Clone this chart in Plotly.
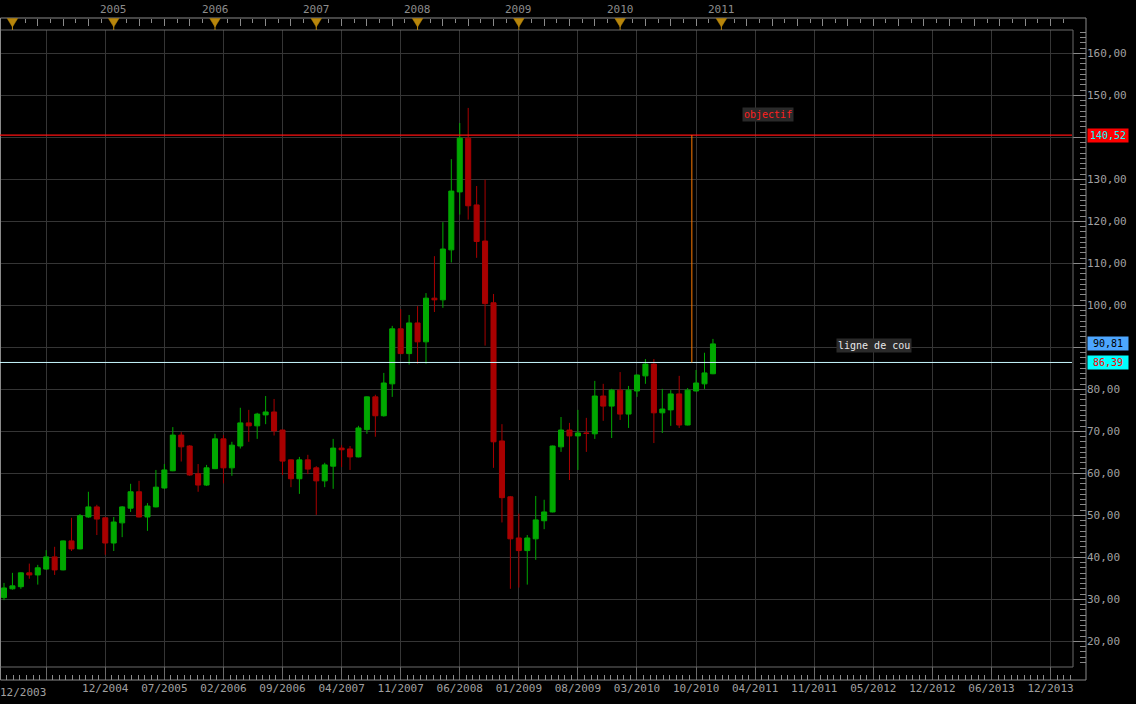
import pandas as pd
import plotly.graph_objects as go

# ---------------- data (monthly candles, Dec 2003 .. Dec 2010) ----------------
months = [p.strftime("%m/%Y") for p in pd.period_range("2003-12", "2010-12", freq="M")]

opens = [30.4, 32.5, 33.0, 36.3, 35.8, 37.2, 40.1, 37.0, 43.9, 42.0, 49.6, 52.0,
         49.4, 43.4, 48.2, 51.7, 55.6, 49.6, 52.0, 56.5, 60.6, 69.1, 66.5, 59.9,
         57.2, 61.1, 68.2, 61.3, 66.5, 72.0, 71.3, 73.9, 74.6, 70.3, 63.2, 58.7,
         63.2, 61.3, 58.2, 61.7, 66.0, 65.8, 63.9, 70.4, 78.2, 73.7, 81.3, 94.4,
         88.5, 95.8, 91.3, 101.7, 101.3, 113.2, 127.0, 139.8, 123.9, 115.3, 100.6, 67.7,
         54.4, 44.6, 41.6, 44.4, 48.7, 50.8, 66.3, 70.3, 68.9, 69.6, 69.4, 78.4,
         76.0, 79.8, 74.1, 79.6, 83.2, 86.0, 74.4, 75.1, 78.9, 71.5, 79.6, 81.3,
         83.7]
highs = [33.9, 36.3, 36.4, 38.5, 38.2, 41.7, 42.5, 44.0, 49.4, 50.3, 55.6, 52.5,
         49.5, 49.6, 52.2, 57.5, 58.2, 52.9, 60.8, 62.2, 71.0, 69.8, 66.7, 62.2,
         62.0, 69.4, 69.1, 67.5, 75.6, 75.1, 74.4, 78.4, 77.7, 70.4, 63.3, 63.9,
         64.4, 61.7, 62.5, 68.2, 66.7, 66.5, 71.3, 78.3, 78.7, 83.9, 95.1, 99.1,
         97.7, 99.8, 102.9, 111.7, 119.8, 134.8, 143.4, 147.0, 128.4, 129.9, 102.7, 71.7,
         54.6, 50.4, 45.3, 54.6, 53.7, 66.6, 73.4, 72.0, 75.1, 73.2, 82.0, 81.3,
         80.1, 84.1, 80.8, 83.5, 87.2, 87.2, 80.1, 79.8, 83.2, 80.3, 84.6, 88.7,
         92.0]
lows = [29.8, 32.3, 32.5, 34.9, 33.5, 37.0, 35.8, 36.9, 41.5, 41.9, 49.4, 45.3,
        40.6, 41.5, 44.8, 50.8, 49.5, 46.3, 51.9, 56.3, 60.5, 62.8, 59.4, 55.6,
        57.0, 61.0, 57.6, 59.4, 65.9, 67.5, 68.2, 71.7, 69.0, 59.6, 56.7, 55.1,
        59.8, 50.1, 56.7, 56.3, 61.5, 60.8, 63.8, 69.4, 68.7, 73.5, 78.2, 88.4,
        85.9, 86.1, 86.1, 98.4, 99.4, 110.2, 121.6, 120.4, 111.3, 90.4, 61.3, 48.3,
        32.5, 32.8, 33.5, 39.4, 46.7, 50.7, 65.1, 58.4, 60.8, 65.1, 68.2, 72.5,
        68.4, 72.7, 70.8, 78.2, 81.3, 67.2, 69.6, 71.3, 70.8, 71.4, 79.5, 80.1,
        83.6]
closes = [32.7, 33.2, 36.3, 35.8, 37.5, 40.1, 37.0, 43.9, 42.0, 49.9, 52.0, 49.1,
          43.4, 48.4, 52.0, 55.6, 49.6, 52.2, 56.7, 60.8, 69.1, 66.3, 59.6, 57.2,
          61.3, 68.2, 61.3, 66.7, 72.0, 71.3, 74.1, 74.6, 70.1, 62.9, 58.7, 63.2,
          61.0, 58.2, 62.0, 66.0, 65.6, 63.9, 70.8, 78.2, 73.7, 81.5, 94.4, 88.5,
          95.8, 91.3, 101.7, 101.3, 113.4, 127.2, 139.8, 123.7, 115.2, 100.4, 67.5, 54.2,
          44.4, 41.6, 44.6, 48.9, 50.8, 66.5, 70.3, 68.9, 69.6, 69.5, 78.4, 76.0,
          79.8, 74.1, 79.8, 83.4, 86.0, 74.4, 75.3, 78.9, 71.5, 79.8, 81.5, 83.9,
          90.81]

objective = 140.52          # "objectif"
neckline = 86.39            # "ligne de cou"
last_close = 90.81
target_month_pos = 81.5     # position of the vertical projection (between 09/2010 and 10/2010)

# bottom axis: grid every 7 months (positions in month units from 12/2003)
bottom_tick_pos = [5, 12, 19, 26, 33, 40, 47, 54, 61, 68, 75, 82, 89, 96, 103, 110, 117, 124]
bottom_tick_text = ["", "12/2004", "07/2005", "02/2006", "09/2006", "04/2007", "11/2007",
                    "06/2008", "01/2009", "08/2009", "03/2010", "10/2010", "04/2011",
                    "11/2011", "05/2012", "12/2012", "06/2013", "12/2013"]
first_label = "12/2003"

# top axis: year markers (January of each year)
year_pos = [1, 13, 25, 37, 49, 61, 73, 85]
year_text = ["", "2005", "2006", "2007", "2008", "2009", "2010", "2011"]

y_ticks = list(range(20, 170, 10))

# ---------------- geometry helpers ----------------
W, H = 1136, 704
def fx(p):  # pixel x -> paper
    return p / W
def fy(p):  # pixel y -> paper
    return (H - p) / H

def fmt(v):
    return f"{v:.2f}".replace(".", ",")

x_index = list(range(len(months)))
x_range = [-0.474, 126.66]
y_range = [13.88, 165.55]

tags = [objective, last_close, neckline]
# the price tags cover the axis labels they sit on
y_tick_text = ["" if any(abs(t - v) < 2.2 for v in tags) else fmt(t) for t in y_ticks]

GRID = "#353535"
AX = "#8a8a8a"
TXT = "#a0a0a0"
FONT = "DejaVu Sans Mono"
GREEN = "#00a800"
RED = "#a80000"

fig = go.Figure()
fig.add_trace(go.Candlestick(
    x=x_index, open=opens, high=highs, low=lows, close=closes,
    increasing=dict(line=dict(color=GREEN, width=1), fillcolor=GREEN),
    decreasing=dict(line=dict(color=RED, width=1), fillcolor=RED),
    whiskerwidth=0, hoverinfo="skip", showlegend=False, name="",
    text=months,
))
# invisible trace so the top axis is drawn
fig.add_trace(go.Scatter(x=year_pos, y=[None] * len(year_pos), xaxis="x2", yaxis="y",
                         mode="markers", marker=dict(opacity=0), showlegend=False,
                         hoverinfo="skip"))

shapes = []
def pline(x0, y0, x1, y1, color=AX, width=1):
    shapes.append(dict(type="line", xref="paper", yref="paper",
                       x0=fx(x0), y0=fy(y0), x1=fx(x1), y1=fy(y1),
                       line=dict(color=color, width=width), layer="above"))
pline(0.5, 18, 1086, 18)
pline(0.5, 30, 1073, 30, color="#6a6a6a")
pline(0.5, 18, 0.5, 680)
pline(1073, 30, 1073, 667, color="#6a6a6a")
pline(1086, 18, 1086, 680)
pline(0.5, 667, 1073, 667, color="#6a6a6a")
pline(0.5, 680, 1086, 680)

# objective line (red), neckline (cyan), projection (orange)
shapes.append(dict(type="line", xref="paper", yref="y", x0=0, x1=fx(1072),
                   y0=objective, y1=objective, line=dict(color="#ff1010", width=1.2)))
shapes.append(dict(type="line", xref="paper", yref="y", x0=0, x1=fx(1072),
                   y0=neckline, y1=neckline, line=dict(color="#c8f8ff", width=1)))
shapes.append(dict(type="line", xref="x", yref="y", x0=target_month_pos, x1=target_month_pos,
                   y0=neckline, y1=objective, line=dict(color="#ff7a00", width=1)))

# year triangles on the top axis
for p in year_pos:
    shapes.append(dict(type="path", xref="x", yref="paper",
                       path=f"M {p-0.62},{fy(18.5)} L {p+0.62},{fy(18.5)} L {p},{fy(27)} Z",
                       fillcolor="#b8860b", line=dict(color="#b8860b", width=0.5)))
    shapes.append(dict(type="line", xref="x", yref="paper", x0=p, x1=p,
                       y0=fy(26), y1=fy(30), line=dict(color="#b8860b", width=1)))

annotations = []
for p, t in zip(year_pos, year_text):
    if t:
        annotations.append(dict(x=p, xref="x", y=fy(9), yref="paper", text=t,
                                showarrow=False, font=dict(family=FONT, size=11, color="#8c8c8c"),
                                xanchor="center", yanchor="middle"))
annotations.append(dict(x=0, xref="paper", y=fy(692), yref="paper", text=first_label,
                        showarrow=False, font=dict(family=FONT, size=11, color=TXT),
                        xanchor="left", yanchor="middle", xshift=-2))

def price_tag(v, bg, fg):
    annotations.append(dict(x=fx(1087), xref="paper", y=v, yref="y", text=fmt(v),
                            showarrow=False, font=dict(family=FONT, size=10, color=fg),
                            bgcolor=bg, xanchor="left", yanchor="middle",
                            width=40, height=13, borderpad=0, align="center"))
price_tag(objective, "#ff0000", "#00ffff")
price_tag(last_close, "#4da6ff", "#000000")
price_tag(neckline, "#00ffff", "#ff0000")

annotations.append(dict(x=90.5, xref="x", y=objective + 4.9, yref="y", text="objectif",
                        showarrow=False, font=dict(family=FONT, size=10, color="#ff2020"),
                        bgcolor="#2a2a2a", borderpad=1, xanchor="center", yanchor="middle"))
annotations.append(dict(x=103.1, xref="x", y=neckline + 4.0, yref="y", text="ligne de cou",
                        showarrow=False, font=dict(family=FONT, size=10, color="#e8e8e8"),
                        bgcolor="#2a2a2a", borderpad=1, xanchor="center", yanchor="middle"))

fig.update_layout(
    width=W, height=H,
    margin=dict(l=0, r=0, t=0, b=0),
    paper_bgcolor="#000000", plot_bgcolor="#000000",
    separators=", ",
    showlegend=False,
    boxgap=0.15,
    font=dict(family=FONT, size=11, color=TXT),
    xaxis=dict(domain=[0, fx(1073)], range=x_range, anchor="free", position=fy(680),
               tickmode="array", tickvals=bottom_tick_pos, ticktext=bottom_tick_text,
               showgrid=True, gridcolor=GRID, gridwidth=1, zeroline=False,
               ticks="inside", ticklen=13, tickcolor="#6a6a6a", showline=False,
               tickfont=dict(family=FONT, size=11, color=TXT),
               minor=dict(tick0=5, dtick=7 / 9, ticks="inside", ticklen=5, tickcolor="#8a8a8a",
                          showgrid=False),
               rangeslider=dict(visible=False), automargin=False, fixedrange=True),
    xaxis2=dict(overlaying="x", side="top", anchor="free", position=fy(18), range=x_range,
                domain=[0, fx(1073)],
                tickmode="linear", tick0=1, dtick=3, ticks="inside", ticklen=7,
                tickcolor="#8a8a8a", showticklabels=False, showgrid=False, zeroline=False,
                minor=dict(dtick=1.5, tick0=1, ticks="inside", ticklen=4, tickcolor="#8a8a8a",
                           showgrid=False),
                automargin=False, fixedrange=True),
    yaxis=dict(domain=[fy(667), fy(30)], range=y_range, side="right", anchor="free",
               position=fx(1086), tickmode="array", tickvals=y_ticks, ticktext=y_tick_text,
               showgrid=True, gridcolor=GRID, gridwidth=1, zeroline=False,
               ticks="inside", ticklen=13, tickcolor="#8a8a8a", showline=False,
               tickfont=dict(family=FONT, size=11, color=TXT),
               minor=dict(tick0=20, dtick=1.25, ticks="inside", ticklen=6, tickcolor="#8a8a8a",
                          showgrid=False),
               automargin=False, fixedrange=True),
    shapes=shapes,
    annotations=annotations,
)

fig.write_html("out.html", config={"displayModeBar": False},
               post_script="document.body.style.margin='0';document.body.style.padding='0';")
